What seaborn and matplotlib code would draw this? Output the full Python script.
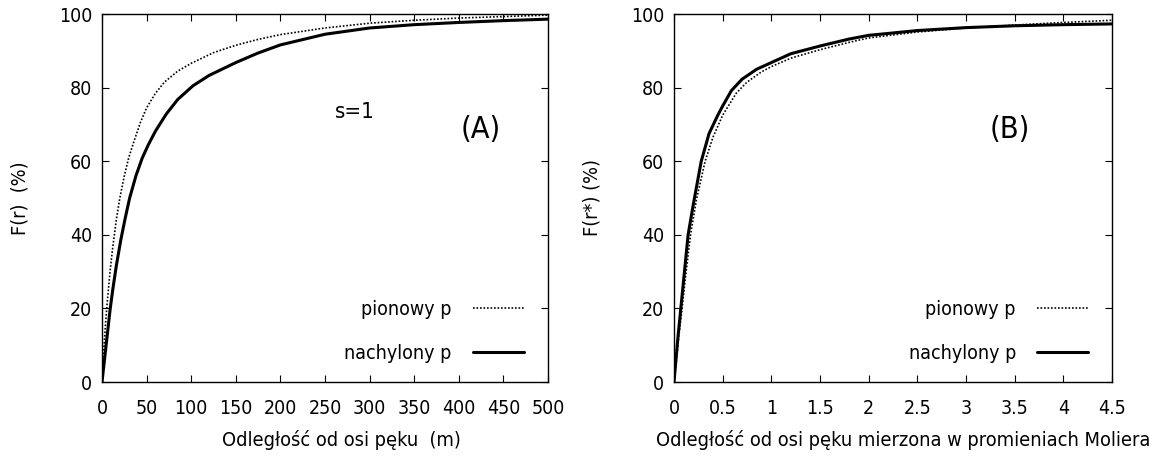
import numpy as np
import pandas as pd
import matplotlib
matplotlib.use("Agg")
import matplotlib.pyplot as plt
import seaborn as sns

# panel A: odleglosc od osi peku (m)
r_pion_a = [0, 2, 4, 6, 9, 12, 16, 20, 25, 30, 36, 43, 50, 60, 70, 85, 100, 125, 150, 175, 200, 250, 300, 350, 400, 450, 500]
pion_a = [0, 8.5, 16, 22, 30, 36.5, 44, 50, 56, 61, 65.5, 70.5, 74.5, 78.5, 81.5, 84.5, 86.6, 89.5, 91.5, 93.1, 94.4, 96.2, 97.5, 98.3, 98.9, 99.3, 99.7]
r_nach_a = [0, 3, 6, 9, 12, 16, 21, 26, 31, 38, 45, 52, 60, 72, 85, 102, 120, 150, 175, 200, 250, 300, 350, 400, 450, 500]
nach_a = [0, 6.5, 13, 19.5, 25, 31.5, 38.5, 44.5, 50, 56, 60.8, 64.5, 68.2, 72.8, 76.8, 80.5, 83.3, 86.8, 89.4, 91.6, 94.5, 96.2, 97.1, 97.7, 98.2, 98.6]

# panel B: odleglosc w promieniach Moliera
r_pion_b = [0, 0.02, 0.05, 0.083, 0.12, 0.17, 0.23, 0.32, 0.4, 0.5, 0.64, 0.75, 0.9, 1.0, 1.2, 1.5, 1.8, 2.0, 2.5, 3.0, 3.5, 4.0, 4.5]
pion_b = [0, 5, 12.5, 20, 29, 40, 49.5, 60, 66.5, 72.5, 78.5, 81.5, 84.3, 85.7, 88, 90.3, 92.3, 93.5, 95.1, 96.2, 97.0, 97.7, 98.3]
r_nach_b = [0, 0.02, 0.04, 0.07, 0.1, 0.145, 0.2, 0.28, 0.36, 0.45, 0.5, 0.59, 0.7, 0.85, 1.0, 1.2, 1.5, 1.8, 2.0, 2.5, 3.0, 3.5, 4.0, 4.5]
nach_b = [0, 6, 12, 20, 28, 40, 48.5, 60, 67.5, 72.5, 75, 79.2, 82.3, 85, 86.8, 89.2, 91.3, 93.2, 94.2, 95.5, 96.3, 96.8, 97.1, 97.3]

sns.set_theme(style="ticks")
plt.rcParams["font.family"] = ["DejaVu Sans"]
plt.rcParams["font.stretch"] = "condensed"
plt.rcParams["text.color"] = "black"
plt.rcParams["axes.labelcolor"] = "black"
plt.rcParams["xtick.color"] = "black"
plt.rcParams["ytick.color"] = "black"
plt.rcParams["xtick.direction"] = "in"
plt.rcParams["ytick.direction"] = "in"

fig = plt.figure(figsize=(11.55, 4.57), dpi=100)
ax1 = fig.add_axes([102/1155, 75/457, 446/1155, 368/457])
ax2 = fig.add_axes([674/1155, 75/457, 438/1155, 368/457])

def draw(ax, xp, pion, xn, nach):
    df_p = pd.DataFrame({"x": xp, "y": pion})
    df_n = pd.DataFrame({"x": xn, "y": nach})
    sns.lineplot(data=df_p, x="x", y="y", ax=ax, color="black",
                 lw=1.2, linestyle=(0, (1, 1.1)), label="pionowy p")
    sns.lineplot(data=df_n, x="x", y="y", ax=ax, color="black",
                 lw=2.2, label="nachylony p")
    ax.set_ylim(0, 100)
    ax.set_yticks([0, 20, 40, 60, 80, 100])
    ax.tick_params(axis="both", which="both", top=True, right=True, length=5,
                   width=0.8, labelsize=14, color="black")
    ax.tick_params(axis="x", pad=12)
    ax.tick_params(axis="y", pad=7)
    for s in ax.spines.values():
        s.set_color("black")
        s.set_linewidth(1.0)
    leg = ax.legend(loc="lower right", bbox_to_anchor=(0.985, 0.004), frameon=False,
                    markerfirst=False, fontsize=14, handlelength=2.6,
                    labelspacing=1.3, handletextpad=1.1)
    for t in leg.get_texts():
        t.set_ha("right")

draw(ax1, r_pion_a, pion_a, r_nach_a, nach_a)
ax1.set_xlim(0, 500)
ax1.set_xticks(np.arange(0, 501, 50))
ax1.set_xlabel("Odległość od osi pęku  (m)", fontsize=14.3, labelpad=9)
ax1.xaxis.label.set_x(0.537)
ax1.set_ylabel("F(r)  (%)", fontsize=14.3, labelpad=21)
ax1.text(283, 73.5, "s=1", fontsize=16, ha="center", va="center")
ax1.text(425, 68.5, "(A)", fontsize=22, ha="center", va="center")

draw(ax2, r_pion_b, pion_b, r_nach_b, nach_b)
ax2.set_xlim(0, 4.5)
ax2.set_xticks(np.arange(0, 4.51, 0.5))
ax2.set_xticklabels(["0", "0.5", "1", "1.5", "2", "2.5", "3", "3.5", "4", "4.5"])
ax2.set_xlabel("Odległość od osi pęku mierzona w promieniach Moliera", fontsize=14.3, labelpad=9)
ax2.xaxis.label.set_x(0.523)
ax2.set_ylabel("F(r*) (%)", fontsize=14.3, labelpad=21)
ax2.text(3.45, 68.5, "(B)", fontsize=22, ha="center", va="center")

fig.savefig("out.png", dpi=100)
